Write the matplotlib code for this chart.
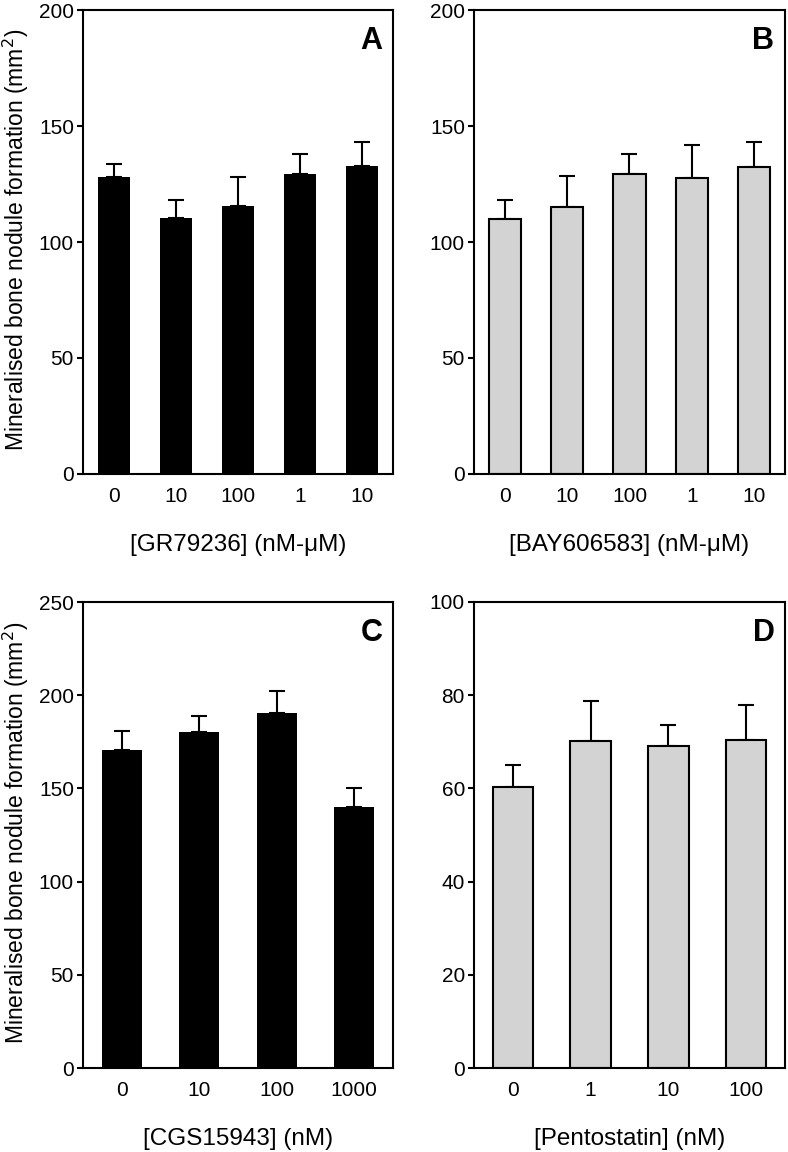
import matplotlib
matplotlib.use('Agg')
import matplotlib.pyplot as plt
import numpy as np

plt.rcParams['font.family'] = ['Liberation Sans', 'DejaVu Sans']

# panel A: GR79236
a_labels = ['0', '10', '100', '1', '10']
a_means = [127.9, 110.2, 115.4, 129.5, 132.6]
a_err = [5.9, 8.1, 12.8, 8.3, 10.5]

# panel B: BAY606583
b_labels = ['0', '10', '100', '1', '10']
b_means = [110.1, 115.3, 129.5, 127.5, 132.5]
b_err = [8.2, 13.0, 8.3, 14.1, 10.7]

# panel C: CGS15943
c_labels = ['0', '10', '100', '1000']
c_means = [170.5, 180.5, 190.6, 140.2]
c_err = [10.5, 8.2, 11.4, 10.2]

# panel D: Pentostatin
d_labels = ['0', '1', '10', '100']
d_means = [60.3, 70.1, 69.0, 70.3]
d_err = [4.8, 8.6, 4.5, 7.7]

ylab = 'Mineralised bone nodule formation (mm$^2$)'


def draw_panel(ax, labels, means, err, color, ymax, ystep, xlabel, letter, show_ylabel):
	x = np.arange(len(labels))
	ax.bar(x, means, width=0.52, color=color, edgecolor='black',
		linewidth=1.5 if color != 'black' else 0, zorder=2)
	ax.errorbar(x, means, yerr=[np.zeros(len(err)), err], fmt='none',
		ecolor='black', elinewidth=1.5, capsize=5.5, capthick=1.5, zorder=1)
	ax.set_xlim(-0.5, len(labels) - 0.5)
	ax.set_ylim(0, ymax)
	ax.set_yticks(np.arange(0, ymax + 1, ystep))
	ax.set_xticks(x)
	ax.set_xticklabels(labels)
	for s in ax.spines.values():
		s.set_linewidth(1.5)
	ax.tick_params(axis='x', length=0, pad=9.5, labelsize=15)
	ax.tick_params(axis='y', direction='out', length=4, width=1.5, pad=2.5, labelsize=15)
	ax.set_xlabel(xlabel, fontsize=17.5, va='center')
	ax.xaxis.set_label_coords(0.5, -0.153)
	if show_ylabel:
		ax.set_ylabel(ylab, fontsize=16.5)
		ax.yaxis.set_label_coords(-0.168, 0.505)
	ax.text(0.966, 0.966, letter, transform=ax.transAxes, ha='right', va='top',
		fontsize=22, fontweight='bold')


fig = plt.figure(figsize=(7.88, 11.52), dpi=100)
W, H = 788.0, 1152.0
axA = fig.add_axes([83 / W, 1 - 474 / H, 310 / W, 464 / H])
axB = fig.add_axes([474 / W, 1 - 474 / H, 311 / W, 464 / H])
axC = fig.add_axes([83 / W, 1 - 1068 / H, 310 / W, 466 / H])
axD = fig.add_axes([474 / W, 1 - 1068 / H, 311 / W, 466 / H])

draw_panel(axA, a_labels, a_means, a_err, 'black', 200, 50, '[GR79236] (nM-\u03bcM)', 'A', True)
draw_panel(axB, b_labels, b_means, b_err, '#d3d3d3', 200, 50, '[BAY606583] (nM-\u03bcM)', 'B', False)
draw_panel(axC, c_labels, c_means, c_err, 'black', 250, 50, '[CGS15943] (nM)', 'C', True)
draw_panel(axD, d_labels, d_means, d_err, '#d3d3d3', 100, 20, '[Pentostatin] (nM)', 'D', False)

fig.savefig('out.png', dpi=100)
